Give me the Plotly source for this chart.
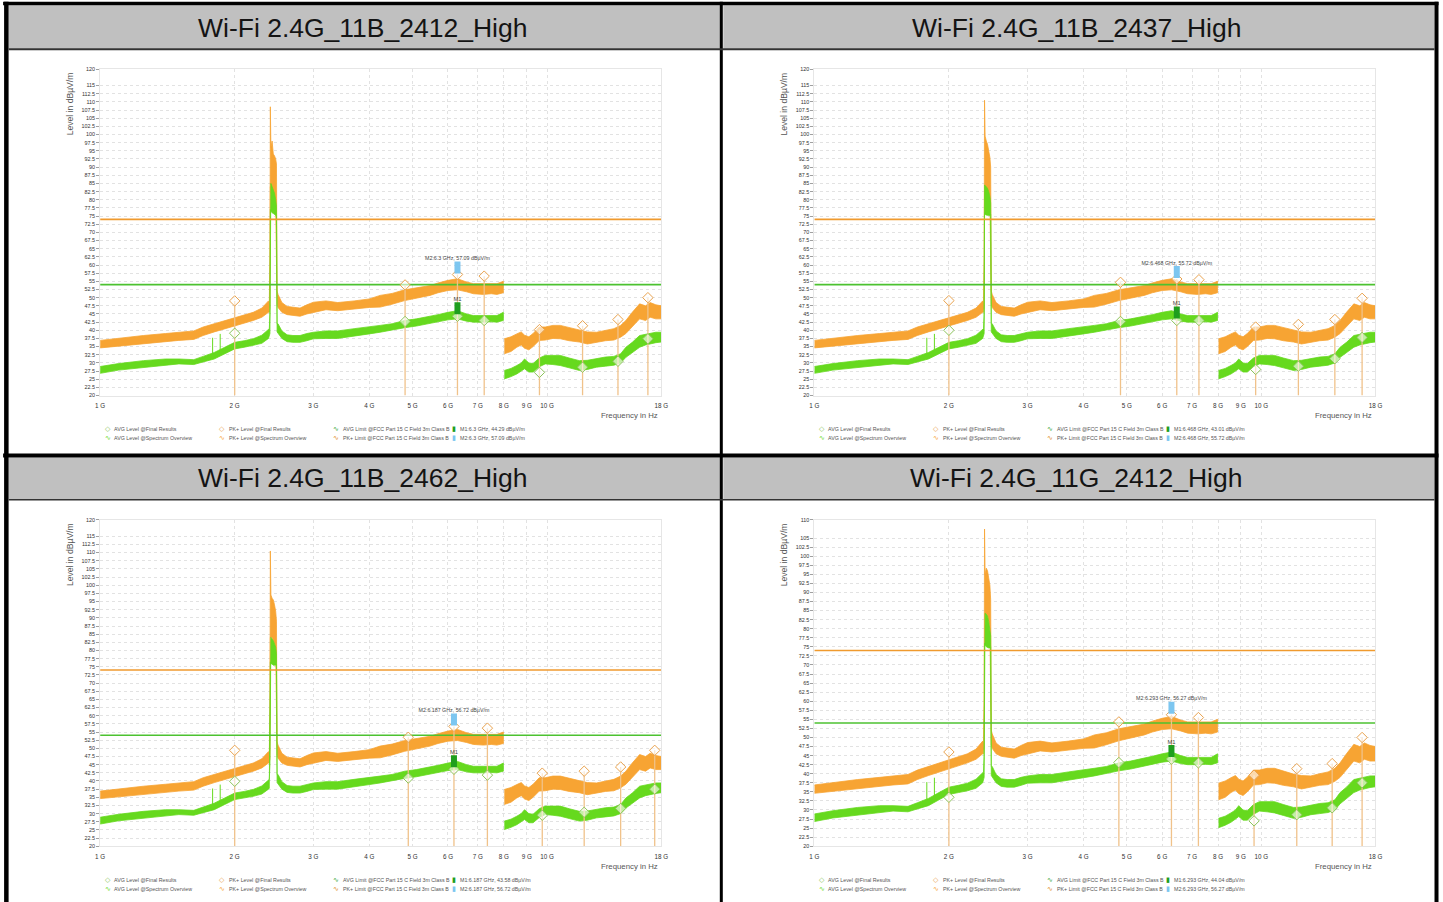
import numpy as np
import plotly.graph_objects as go

W, H = 1443, 902

# ---------------- data ----------------
TITLES = ["Wi-Fi 2.4G_11B_2412_High", "Wi-Fi 2.4G_11B_2437_High",
          "Wi-Fi 2.4G_11B_2462_High", "Wi-Fi 2.4G_11G_2412_High"]
Y_MAX = [120, 120, 120, 110]

X_TICK_GHZ = [1, 2, 3, 4, 5, 6, 7, 8, 9, 10, 18]
X_TICK_TEXT = ["1 G", "2 G", "3 G", "4 G", "5 G", "6 G", "7 G", "8 G", "9 G", "10 G", "18 G"]

# spectrum overview, 1 GHz .. just below the carrier (GHz, dBuV/m)
PRE_F = [1.00, 1.10, 1.25, 1.40, 1.50, 1.62, 1.70, 1.80, 1.90, 2.00, 2.10, 2.20, 2.30, 2.38]
PRE_PK_LO = [34.6, 35.2, 35.9, 36.5, 36.9, 37.2, 38.4, 39.5, 40.5, 41.5, 42.2, 43.0, 44.0, 45.5]
PRE_PK_HI = [36.9, 37.6, 38.4, 39.0, 39.4, 39.8, 41.0, 42.0, 43.0, 44.0, 44.8, 45.5, 46.8, 49.0]
PRE_AV_LO = [26.8, 27.8, 28.7, 29.3, 29.7, 29.5, 30.3, 31.2, 32.8, 34.3, 34.8, 35.3, 36.0, 37.5]
PRE_AV_HI = [28.9, 29.8, 30.7, 31.2, 31.2, 31.0, 32.0, 33.2, 34.8, 36.3, 36.8, 37.4, 38.5, 40.5]

# carrier region, per panel
SPIKE_F = [2.390, 2.398, 2.403, 2.410, 2.425, 2.440, 2.455, 2.470, 2.480, 2.488]
SPIKE_PK_HI = [
    [48.5, 62, 108.5, 96.0, 98.0, 94.0, 93.5, 92.5, 91.0, 52],
    [48.5, 62, 110.5, 99.5, 98.0, 97.0, 95.0, 93.0, 90.0, 52],
    [48.5, 62, 110.5, 97.0, 96.0, 95.5, 94.0, 92.0, 89.0, 52],
    [48.5, 62, 107.5, 95.0, 96.7, 96.0, 94.0, 92.0, 88.0, 52],
]
SPIKE_PK_LO = [
    [45.5, 47, 84, 82, 83, 82, 80, 78, 76, 48],
    [45.5, 47, 84, 84, 84, 83, 82, 80, 78, 48],
    [45.5, 47, 84, 84, 84, 83, 82, 80, 78, 48],
    [45.5, 47, 84, 84, 84, 83.5, 82, 80, 78, 48],
]
SPIKE_AV_HI = [
    [40.5, 45, 85.0, 85.0, 84.0, 83.0, 82.0, 80.0, 78.0, 42],
    [40.5, 45, 84.5, 84.4, 84.0, 83.5, 82.5, 81.0, 79.0, 42],
    [40.5, 45, 84.0, 84.0, 83.5, 83.0, 82.0, 81.0, 79.0, 42],
    [40.5, 45, 84.3, 84.3, 84.0, 83.5, 82.0, 80.0, 78.0, 42],
]
SPIKE_AV_LO = [
    [37.8, 39, 77.0, 76.5, 76.0, 75.8, 75.5, 75.3, 75.0, 39.5],
    [37.8, 39, 76.0, 75.5, 75.3, 75.2, 75.2, 75.2, 75.5, 39.5],
    [37.8, 39, 76.5, 76.0, 75.8, 75.5, 75.5, 75.5, 75.8, 39.5],
    [37.8, 39, 76.0, 75.5, 75.0, 74.8, 74.7, 74.7, 75.0, 39.5],
]

# spectrum overview, above the carrier up to 8 GHz
POST_F = [2.50, 2.55, 2.62, 2.70, 2.80, 2.90, 3.00, 3.20, 3.40, 3.70, 4.00, 4.23, 4.50,
          4.80, 5.10, 5.47, 5.70, 6.00, 6.30, 6.60, 6.84, 7.20, 7.50, 7.72, 7.98]
POST_PK_LO = [47.0, 45.5, 44.8, 44.5, 44.3, 45.0, 45.5, 46.3, 46.0, 46.5, 47.0, 47.1, 48.0,
              49.1, 49.8, 50.7, 51.5, 52.2, 52.4, 51.8, 51.2, 51.0, 51.2, 51.0, 51.5]
POST_PK_HI = [51.0, 48.5, 47.3, 47.0, 46.8, 47.8, 48.6, 49.0, 48.5, 49.0, 49.6, 50.7, 51.3,
              52.4, 53.0, 53.7, 54.5, 55.3, 55.8, 54.8, 54.3, 54.3, 54.2, 54.3, 55.0]
POST_AV_LO = [39.0, 37.5, 36.5, 36.3, 36.3, 36.8, 37.4, 37.5, 37.5, 38.3, 38.9, 39.4, 40.0,
              40.8, 41.3, 42.0, 42.6, 43.2, 43.5, 42.8, 42.5, 42.5, 42.6, 42.5, 43.0]
POST_AV_HI = [42.0, 39.8, 38.6, 38.4, 38.4, 39.0, 39.4, 39.8, 39.8, 40.5, 41.0, 41.5, 42.0,
              43.0, 43.5, 44.2, 44.8, 45.5, 46.0, 45.0, 44.5, 44.5, 44.6, 44.5, 45.5]

# spectrum overview, 8 .. 18 GHz
HI_F = [8.02, 8.30, 8.55, 8.75, 8.90, 9.10, 9.30, 9.60, 9.90, 10.3, 10.7, 11.2, 11.8,
        12.3, 12.9, 13.5, 14.1, 14.6, 15.0, 15.5, 16.1, 16.6, 17.0, 17.5, 18.0]
HI_PK_LO = [32.8, 33.5, 34.8, 35.5, 34.5, 34.0, 35.0, 36.9, 37.0, 37.5, 37.4, 36.8, 36.4,
            35.8, 36.4, 36.8, 37.0, 37.9, 39.0, 41.0, 43.5, 43.0, 44.0, 43.5, 43.5]
HI_PK_HI = [37.4, 38.0, 38.9, 39.5, 38.5, 38.0, 39.0, 41.0, 41.0, 41.5, 41.5, 40.8, 39.9,
            39.5, 39.4, 40.0, 40.5, 41.5, 43.0, 45.5, 48.1, 47.5, 48.5, 47.8, 47.5]
HI_AV_LO = [25.1, 25.8, 26.6, 27.5, 28.2, 27.2, 27.2, 28.8, 29.7, 29.5, 29.2, 28.5, 27.7,
            28.0, 28.7, 29.0, 29.3, 30.0, 31.7, 33.0, 34.8, 35.5, 35.8, 36.2, 36.4]
HI_AV_HI = [27.7, 28.3, 29.2, 30.0, 31.2, 30.0, 29.8, 31.5, 32.3, 32.3, 32.3, 31.5, 30.7,
            30.8, 31.3, 31.8, 32.0, 32.8, 34.8, 36.3, 38.4, 38.8, 39.0, 39.4, 39.4]

# narrow AVG spurs below the carrier
SPUR_F = [1.785, 1.856, 1.920]
SPUR_BASE = [32.5, 33.5, 34.5]
SPUR_TOP = [37.7, 38.9, 35.0]

# limits
PK_LIMIT = 74.0
AV_LIMIT = 54.0

# final results per panel
FIN_F = [
    [2.0, 4.81, 6.3, 7.23, 9.61, 12.0, 14.4, 16.8],
    [2.0, 4.84, 6.468, 7.25, 9.71, 12.1, 14.6, 16.8],
    [2.0, 4.89, 6.187, 7.35, 9.75, 12.1, 14.6, 17.4],
    [2.0, 4.80, 6.293, 7.23, 9.63, 12.0, 14.4, 16.8],
]
FIN_PK = [
    [49.0, 53.9, 57.09, 56.6, 40.2, 41.4, 43.3, 50.0],
    [49.1, 54.7, 55.72, 55.5, 41.0, 41.8, 43.3, 49.8],
    [49.4, 53.4, 56.72, 56.2, 42.4, 43.0, 44.3, 49.4],
    [46.0, 54.3, 56.27, 55.5, 39.6, 41.4, 42.8, 50.0],
]
FIN_AV = [
    [39.1, 42.7, 44.29, 43.0, 27.1, 28.7, 30.5, 37.4],
    [40.0, 42.7, 43.01, 43.0, 28.0, 29.0, 31.3, 37.8],
    [39.9, 40.9, 43.58, 41.8, 29.5, 30.4, 31.6, 37.5],
    [33.5, 43.1, 44.04, 43.0, 27.0, 28.7, 30.6, 37.5],
]

# markers
M_FREQ = [6.3, 6.468, 6.187, 6.293]
M1_VAL = [44.29, 43.01, 43.58, 44.04]
M2_VAL = [57.09, 55.72, 56.72, 56.27]

LEGEND_TEXT = ["AVG Level @Final Results", "AVG Level @Spectrum Overview",
               "PK+ Level @Final Results", "PK+ Level @Spectrum Overview",
               "AVG Limit @FCC Part 15 C Field 3m Class B",
               "PK+ Limit @FCC Part 15 C Field 3m Class B"]

# ---------------- style ----------------
PK_COLOR = "#F7A433"
AV_COLOR = "#66D91E"
PK_LIM_COLOR = "#F09A2E"
AV_LIM_COLOR = "#4CC230"
FIN_LINE_COLOR = "#F0C28A"
PK_DIA_COLOR = "#E9A34F"
AV_DIA_COLOR = "#8CC45A"
M1_COLOR = "#1E9E1E"
M2_COLOR = "#7CC6F0"
TXT = "#555555"
SANS = "Liberation Sans, Arial, sans-serif"

PANEL_OFF = [(0, 0), (714, 0), (0, 451), (714, 451)]
PL, PR, PT, PB = 100, 661, 68.5, 395

# small correction between layout pixels and photographed pixels
SX, OX, SY, OY = 0.9914, 4.9, 0.994, 2.2


def px(x):
    return ((x - OX) / SX) / W


def py(y):
    return 1 - ((y - OY) / SY) / H


fig = go.Figure()
layout = dict(width=W, height=H, margin=dict(l=0, r=0, t=0, b=0), autosize=False,
              paper_bgcolor="white", plot_bgcolor="white", showlegend=False)
annotations = []
shapes = []

# table frame
for (x0, x1) in [(8.5, 720), (723, 1434)]:
    for (y0, y1) in [(4.5, 48), (457, 498.5)]:
        shapes.append(dict(type="rect", xref="paper", yref="paper", x0=px(x0), x1=px(x1),
                           y0=py(y1), y1=py(y0), fillcolor="#C0C0C0", line=dict(width=0), layer="below"))
for (x0, x1, y0, y1, c) in [
    (3, 1438, 1.0, 4.5, "#000000"),
    (3, 1438, 453, 457, "#000000"),
    (4, 8.5, 1.0, 903, "#000000"),
    (719.5, 722.5, 1.0, 903, "#000000"),
    (1434, 1438, 1.0, 903, "#000000"),
    (8.5, 1434, 47.5, 49.5, "#333333"),
    (8.5, 1434, 498.5, 500, "#333333"),
]:
    shapes.append(dict(type="rect", xref="paper", yref="paper", x0=px(x0), x1=px(x1), y0=py(y1), y1=py(y0),
                       fillcolor=c, line=dict(width=0), layer="above"))

for i in range(4):
    dx, dy = PANEL_OFF[i]
    xa = "x" if i == 0 else f"x{i + 1}"
    ya = "y" if i == 0 else f"y{i + 1}"
    xk = "xaxis" if i == 0 else f"xaxis{i + 1}"
    yk = "yaxis" if i == 0 else f"yaxis{i + 1}"
    ymax = Y_MAX[i]
    ppd = (PB - PT) / (ymax - 20)

    def add(tr):
        tr.update(xaxis=xa, yaxis=ya, hoverinfo="skip", showlegend=False)
        fig.add_trace(tr)

    fa = [f * 1e9 for f in PRE_F + SPIKE_F + POST_F]
    fb = [f * 1e9 for f in HI_F]
    pk_hi_a = PRE_PK_HI + SPIKE_PK_HI[i] + POST_PK_HI
    pk_lo_a = PRE_PK_LO + SPIKE_PK_LO[i] + POST_PK_LO
    av_hi_a = PRE_AV_HI + SPIKE_AV_HI[i] + POST_AV_HI
    av_lo_a = PRE_AV_LO + SPIKE_AV_LO[i] + POST_AV_LO

    for xs, hi, lo, col in [(fa, pk_hi_a, pk_lo_a, PK_COLOR), (fb, HI_PK_HI, HI_PK_LO, PK_COLOR),
                            (fa, av_hi_a, av_lo_a, AV_COLOR), (fb, HI_AV_HI, HI_AV_LO, AV_COLOR)]:
        add(go.Scatter(x=xs + xs[::-1], y=hi + lo[::-1], mode="lines", fill="toself",
                       fillcolor=col, line=dict(color=col, width=0.8)))

    sx, sy = [], []
    for f, b, t in zip(SPUR_F, SPUR_BASE, SPUR_TOP):
        sx += [f * 1e9, f * 1e9, None]
        sy += [b, t, None]
    add(go.Scatter(x=sx, y=sy, mode="lines", line=dict(color=AV_COLOR, width=1)))

    add(go.Scatter(x=[1e9, 18e9], y=[PK_LIMIT, PK_LIMIT], mode="lines", line=dict(color=PK_LIM_COLOR, width=1.6)))
    add(go.Scatter(x=[1e9, 18e9], y=[AV_LIMIT, AV_LIMIT], mode="lines", line=dict(color=AV_LIM_COLOR, width=1.6)))

    vx, vy = [], []
    for f, p in zip(FIN_F[i], FIN_PK[i]):
        vx += [f * 1e9, f * 1e9, None]
        vy += [20, p, None]
    add(go.Scatter(x=vx, y=vy, mode="lines", line=dict(color=FIN_LINE_COLOR, width=1.3)))

    ff = [f * 1e9 for f in FIN_F[i]]
    add(go.Scatter(x=ff, y=FIN_AV[i], mode="markers",
                   marker=dict(symbol="diamond", size=8, color="rgba(255,255,255,0.6)",
                               line=dict(color=AV_DIA_COLOR, width=1))))
    add(go.Scatter(x=ff, y=FIN_PK[i], mode="markers",
                   marker=dict(symbol="diamond", size=8, color="rgba(255,255,255,0.6)",
                               line=dict(color=PK_DIA_COLOR, width=1))))

    mf = M_FREQ[i] * 1e9
    m1b, m1t = M1_VAL[i] + 2 / ppd, M1_VAL[i] + 14 / ppd
    m2b, m2t = M2_VAL[i] + 1 / ppd, M2_VAL[i] + 13 / ppd
    add(go.Scatter(x=[mf, mf], y=[m1b, m1t], mode="lines", line=dict(color=M1_COLOR, width=6)))
    add(go.Scatter(x=[mf, mf], y=[m2b, m2t], mode="lines", line=dict(color=M2_COLOR, width=6)))
    m1_label = f"M1:{M_FREQ[i]} GHz, {M1_VAL[i]:.2f} dBµV/m"
    m2_label = f"M2:{M_FREQ[i]} GHz, {M2_VAL[i]:.2f} dBµV/m"
    add(go.Scatter(x=[mf], y=[m1t], mode="text", text=["M1"], textposition="top center",
                   textfont=dict(family=SANS, size=5.8, color="#444444")))
    add(go.Scatter(x=[mf], y=[m2t], mode="text", text=[m2_label], textposition="top center",
                   textfont=dict(family=SANS, size=5.3, color="#444444")))

    yt = [20 + 2.5 * k for k in range(int((ymax - 20) / 2.5) + 1)]
    yt = [v for v in yt if abs(v - (ymax - 2.5)) > 1e-6]
    layout[xk] = dict(domain=[px(PL + dx), px(PR + dx)], anchor=ya, type="log",
                      range=[9, np.log10(18e9)],
                      tickvals=[g * 1e9 for g in X_TICK_GHZ], ticktext=X_TICK_TEXT,
                      tickfont=dict(family=SANS, size=6.3, color="#333333"),
                      ticks="outside", ticklen=4, tickcolor="rgba(0,0,0,0)",
                      showgrid=True, gridcolor="#E2E2E2", griddash="dot", gridwidth=1,
                      showline=True, linecolor="#E6E6E6", mirror=True, zeroline=False)
    layout[yk] = dict(domain=[py(PB + dy), py(PT + dy)], anchor=xa, range=[20, ymax],
                      tickvals=yt, ticktext=[f"{v:g}" for v in yt],
                      tickfont=dict(family=SANS, size=5.4, color="#333333"),
                      ticks="outside", ticklen=3, tickcolor="#A0A0A0",
                      showgrid=True, gridcolor="#E2E2E2", griddash="dot", gridwidth=1,
                      showline=True, linecolor="#E6E6E6", mirror=True, zeroline=False)

    # header title
    hx = 362 if dx == 0 else 1076
    annotations.append(dict(xref="paper", yref="paper", x=px(hx), y=py(27 + dy), text=TITLES[i],
                            showarrow=False, xanchor="center", yanchor="middle",
                            font=dict(family=SANS, size=26.5, color="#141414")))
    # axis titles
    annotations.append(dict(xref="paper", yref="paper", x=px(70 + dx), y=py(70 + dy), text="Level in dBµV/m",
                            textangle=-90, showarrow=False, xanchor="center", yanchor="top",
                            font=dict(family=SANS, size=8.6, color="#555555")))
    annotations.append(dict(xref="paper", yref="paper", x=px(660 + dx), y=py(415 + dy), text="Frequency in Hz",
                            showarrow=False, xanchor="right", yanchor="middle",
                            font=dict(family=SANS, size=7.8, color="#555555")))
    # legend
    r1, r2 = 428.5 + dy, 437.5 + dy
    leg = [
        (107.5, r1, "◇", AV_DIA_COLOR, LEGEND_TEXT[0]),
        (107.5, r2, "∿", AV_COLOR, LEGEND_TEXT[1]),
        (222, r1, "◇", PK_DIA_COLOR, LEGEND_TEXT[2]),
        (222, r2, "∿", PK_COLOR, LEGEND_TEXT[3]),
        (336, r1, "∿", "#2FA52F", LEGEND_TEXT[4]),
        (336, r2, "∿", "#E08A1E", LEGEND_TEXT[5]),
        (453.5, r1, "▮", M1_COLOR, m1_label),
        (453.5, r2, "▮", M2_COLOR, m2_label),
    ]
    for (lx, ly, sym, col, txt) in leg:
        annotations.append(dict(xref="paper", yref="paper", x=px(lx + dx), y=py(ly), text=sym,
                                showarrow=False, xanchor="center", yanchor="middle",
                                font=dict(family="DejaVu Sans", size=7, color=col)))
        annotations.append(dict(xref="paper", yref="paper", x=px(lx + 4.5 + dx), y=py(ly), text=txt,
                                showarrow=False, xanchor="left", yanchor="middle",
                                font=dict(family=SANS, size=5.3, color=TXT)))

layout["annotations"] = annotations
layout["shapes"] = shapes
fig.update_layout(**layout)
fig.write_html("out.html", config={"displayModeBar": False},
               post_script="document.body.style.margin='0px';document.body.style.overflow='hidden';")
